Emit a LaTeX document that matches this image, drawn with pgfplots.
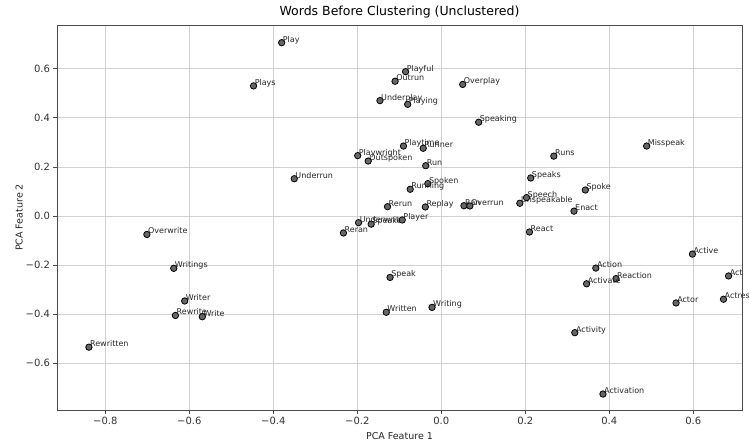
\documentclass[border=0pt]{standalone}
\usepackage{pgfplots}
\usepackage{pgfplotstable}
\usepackage{fontspec}
\setmainfont{DejaVu Sans}
\pgfplotsset{compat=1.18}
\pgfplotstableread{
x y label
-0.380 0.706 Play
-0.447 0.530 Plays
-0.085 0.588 Playful
-0.110 0.549 Outrun
0.051 0.536 Overplay
-0.146 0.470 Underplay
-0.080 0.455 Playing
0.089 0.382 Speaking
-0.090 0.285 Playtime
-0.043 0.276 Runner
-0.199 0.246 Playwright
-0.174 0.224 Outspoken
-0.037 0.205 Run
-0.350 0.152 Underrun
-0.032 0.132 Spoken
-0.074 0.109 Running
-0.128 0.038 Rerun
-0.038 0.037 Replay
0.054 0.042 Ran
0.068 0.041 Overrun
0.187 0.052 Unspeakable
0.203 0.075 Speech
0.213 0.155 Speaks
0.268 0.244 Runs
0.489 0.285 Misspeak
0.343 0.106 Spoke
0.316 0.020 Enact
0.210 -0.065 React
0.598 -0.155 Active
0.368 -0.212 Action
0.416 -0.255 Reaction
0.346 -0.276 Activate
0.684 -0.244 Act
0.559 -0.354 Actor
0.672 -0.339 Actress
0.318 -0.475 Activity
0.385 -0.725 Activation
-0.197 -0.027 Underwrite
-0.167 -0.033 Speaker
-0.093 -0.016 Player
-0.233 -0.069 Reran
-0.122 -0.250 Speak
-0.131 -0.392 Written
-0.022 -0.372 Writing
-0.701 -0.075 Overwrite
-0.637 -0.213 Writings
-0.611 -0.346 Writer
-0.633 -0.405 Rewrite
-0.569 -0.410 Write
-0.839 -0.534 Rewritten
}\words
\begin{document}
\begin{tikzpicture}
\begin{axis}[
  at={(0pt,0pt)}, anchor=south west,
  scale only axis, width=685pt, height=385pt,
  xmin=-0.915, xmax=0.716, ymin=-0.79, ymax=0.778,
  xtick={-0.8,-0.6,-0.4,-0.2,0,0.2,0.4,0.6},
  xticklabels={−0.8,−0.6,−0.4,−0.2,0.0,0.2,0.4,0.6},
  ytick={-0.6,-0.4,-0.2,0,0.2,0.4,0.6},
  yticklabels={−0.6,−0.4,−0.2,0.0,0.2,0.4,0.6},
  tick label style={font=\fontsize{10pt}{12pt}\selectfont, text=black!80},
  tick align=outside, tick pos=left,
  major tick length=3.5pt,
  every tick/.style={black!70, line width=0.8pt},
  axis line style={black!70, line width=0.8pt},
  grid=major, grid style={gray!35, line width=0.8pt},
  title={Words Before Clustering (Unclustered)},
  title style={font=\fontsize{12.5pt}{14pt}\selectfont, yshift=-3pt},
  xlabel={PCA Feature 1}, ylabel={PCA Feature 2},
  label style={font=\fontsize{9.5pt}{11pt}\selectfont, text=black!85},
  xlabel style={yshift=-1pt},
  ylabel style={yshift=-4pt},
]
\addplot[only marks, mark=*, mark size=3.2pt,
  mark options={fill=black!60, draw=black, line width=0.8pt},
  nodes near coords, point meta=explicit symbolic,
  nodes near coords style={anchor=base west, font=\fontsize{8pt}{9pt}\selectfont, text=black!85, inner sep=0pt, xshift=0.8pt, yshift=0.5pt}]
  table[x=x, y=y, meta=label] {\words};
\end{axis}
\pgfresetboundingbox
\path[use as bounding box] (-57pt,-35pt) rectangle (692pt,410pt);
\end{tikzpicture}
\end{document}
